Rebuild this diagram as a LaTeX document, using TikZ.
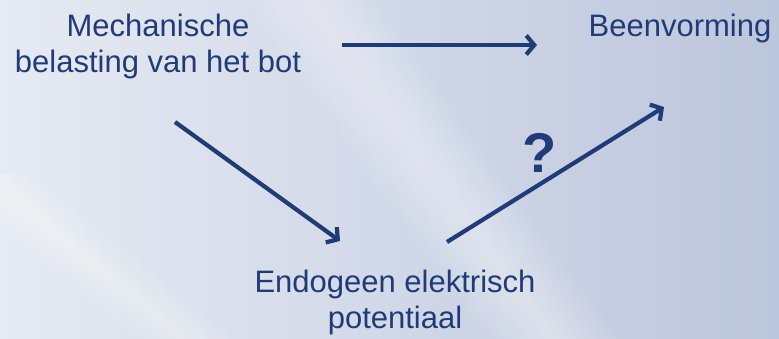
\documentclass[tikz,border=0pt]{standalone}
\usepackage{fontspec}
\setmainfont{Liberation Sans}
\usetikzlibrary{arrows.meta}

\definecolor{ink}{HTML}{1F3B78}
\definecolor{bgleft}{HTML}{E6EAF3}
\definecolor{bgmid}{HTML}{D2D8E8}
\definecolor{bgright}{HTML}{BCC6DC}

\tikzset{
  label/.style={text=ink, align=center, inner sep=0pt,
    font=\fontsize{31}{36}\selectfont},
  qmark/.style={text=ink, inner sep=0pt,
    font=\fontsize{56}{60}\selectfont\bfseries},
  link/.style={draw=ink, line width=4.2pt,
    -{Straight Barb[length=8pt,width=19pt,line width=4.2pt]}},
  ray/.style={fill=white, fill opacity=0.06},
}

\begin{document}
\begin{tikzpicture}[x=1pt,y=1pt]
  \useasboundingbox (0,0) rectangle (779,339);

  % background: left-to-right blue gradient with soft light rays
  \shade[left color=bgleft, middle color=bgmid, right color=bgright]
    (0,0) rectangle (779,339);
  \foreach \w in {8,16,...,64} {
    \fill[ray] (300-\w,349) -- (300+\w,349) -- (560+\w,-10) -- (560-\w,-10) -- cycle;
  }
  \foreach \w in {6,12,...,48} {
    \fill[ray] (-20-\w,165) -- (-20+\w,165) -- (200+\w,-10) -- (200-\w,-10) -- cycle;
  }

  % labels (base anchor sits on the last line)
  \node[label, anchor=base] (mech) at (158,266)
    {Mechanische\\belasting van het bot};
  \node[label, anchor=base] (been) at (680,302) {Beenvorming};
  \node[label, anchor=base] (endo) at (395,10)
    {Endogeen elektrisch\\potentiaal};
  \node[qmark, anchor=base] (q) at (540,166) {?};

  % connector end points
  \coordinate (h1) at (342,294);
  \coordinate (h2) at (537,294);
  \coordinate (d1) at (175,217);
  \coordinate (d2) at (340,98);
  \coordinate (u1) at (447,97);
  \coordinate (u2) at (664,232);

  % arrows
  \draw[link] (h1) -- (h2);
  \draw[link] (d1) -- (d2);
  \draw[link] (u1) -- (u2);
\end{tikzpicture}
\end{document}
